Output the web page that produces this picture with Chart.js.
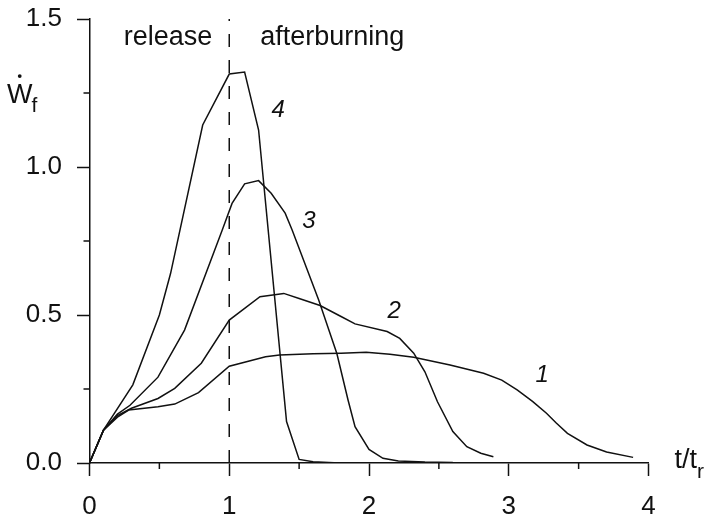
<html>
<head>
	<title>W_f vs t/t_r</title>
	<script type="text/javascript" src="https://cdn.jsdelivr.net/npm/chart.js@4.4.1/dist/chart.umd.min.js"></script>
	<style type="text/css">
	body{
		margin: 0;
		background-color: #fff;
	}
	#wrap{
		width: 708px;
		height: 521px;
	}
	</style>
</head>
<body>
	<div id="wrap">
		<canvas id="chart" width="708" height="521"></canvas>
	</div>
	<script type="text/javascript">
	// curve 1
	var curve1T = [0, 0.1, 0.2, 0.28, 0.49, 0.61, 0.78, 1.0, 1.26, 1.36, 1.6, 1.8, 1.98, 2.15, 2.32, 2.58, 2.82, 2.95, 3.06, 3.17, 3.27, 3.34, 3.42, 3.56, 3.7, 3.89];
	var curve1W = [0, 0.111, 0.155, 0.179, 0.19, 0.199, 0.238, 0.327, 0.359, 0.365, 0.369, 0.371, 0.374, 0.367, 0.357, 0.331, 0.303, 0.28, 0.247, 0.208, 0.168, 0.135, 0.1, 0.061, 0.037, 0.019];
	// curve 2
	var curve2T = [0, 0.1, 0.2, 0.3, 0.49, 0.61, 0.8, 1.0, 1.22, 1.39, 1.5, 1.65, 1.8, 1.9, 2.13, 2.22, 2.32, 2.4, 2.49, 2.6, 2.7, 2.8, 2.89];
	var curve2W = [0, 0.111, 0.16, 0.185, 0.218, 0.252, 0.337, 0.483, 0.562, 0.573, 0.556, 0.532, 0.495, 0.47, 0.444, 0.421, 0.371, 0.308, 0.207, 0.106, 0.055, 0.033, 0.021];
	// curve 3
	var curve3T = [0, 0.1, 0.2, 0.29, 0.49, 0.68, 0.95, 1.02, 1.11, 1.21, 1.3, 1.4, 1.45, 1.64, 1.77, 1.85, 1.9, 2.0, 2.1, 2.21, 2.4, 2.6];
	var curve3W = [0, 0.111, 0.165, 0.195, 0.29, 0.449, 0.787, 0.877, 0.943, 0.954, 0.911, 0.844, 0.787, 0.551, 0.37, 0.213, 0.123, 0.046, 0.016, 0.007, 0.003, 0.002];
	// curve 4
	var curve4T = [0, 0.1, 0.31, 0.5, 0.58, 0.81, 1.0, 1.11, 1.21, 1.41, 1.5, 1.6, 1.75];
	var curve4W = [0, 0.111, 0.264, 0.5, 0.64, 1.142, 1.314, 1.321, 1.125, 0.14, 0.012, 0.004, 0.001];

	var curveNames = ["1", "2", "3", "4"];
	// where the italic numbers sit, in data units
	var curveLabelT = [3.24, 2.18, 1.57, 1.35];
	var curveLabelW = [0.297, 0.514, 0.816, 1.193];

	var xTicks = [0, 1, 2, 3, 4];
	var yTicks = [0.0, 0.5, 1.0, 1.5];
	var xMinor = [0.5, 1.5, 2.5, 3.5];
	var yMinor = [0.25, 0.75, 1.25];
	var releaseT = 1;

	var ink = "#111";
	var font = "'Liberation Sans', Arial, Helvetica, sans-serif";

	function pts(t, w){
		var out = [];
		for (var i = 0; i < t.length; i++) out.push({x: t[i], y: w[i]});
		return out;
	}

	function curve(t, w){
		return {
			data: pts(t, w),
			showLine: true,
			borderColor: ink,
			borderWidth: 1.5,
			pointRadius: 0,
			tension: 0,
			fill: false
		};
	}

	var datasets = [
		curve(curve1T, curve1W),
		curve(curve2T, curve2W),
		curve(curve3T, curve3W),
		curve(curve4T, curve4W),
		{
			// release / afterburning boundary
			data: [{x: releaseT, y: yTicks[0]}, {x: releaseT, y: yTicks[yTicks.length - 1]}],
			showLine: true,
			borderColor: ink,
			borderWidth: 1.5,
			borderDash: [13, 13],
			pointRadius: 0,
			clip: 10
		}
	];

	// small ticks between the labelled ones
	var minorTicks = {
		id: "minorTicks",
		afterDraw: function(chart){
			var ctx = chart.ctx, xs = chart.scales.x, ys = chart.scales.y;
			ctx.save();
			ctx.strokeStyle = ink;
			ctx.lineWidth = 1.5;
			ctx.beginPath();
			xMinor.forEach(function(v){
				var px = xs.getPixelForValue(v);
				ctx.moveTo(px, xs.top);
				ctx.lineTo(px, xs.top + 6);
			});
			yMinor.forEach(function(v){
				var py = ys.getPixelForValue(v);
				ctx.moveTo(ys.right, py);
				ctx.lineTo(ys.right - 6, py);
			});
			ctx.stroke();
			ctx.restore();
		}
	};

	// text on the plot
	var notes = {
		id: "notes",
		afterDraw: function(chart){
			var ctx = chart.ctx, xs = chart.scales.x, ys = chart.scales.y;
			ctx.save();
			ctx.fillStyle = ink;

			ctx.font = "italic 24px " + font;
			ctx.textAlign = "center";
			ctx.textBaseline = "middle";
			for (var i = 0; i < curveNames.length; i++){
				ctx.fillText(curveNames[i], xs.getPixelForValue(curveLabelT[i]), ys.getPixelForValue(curveLabelW[i]));
			}

			ctx.font = "27px " + font;
			ctx.textBaseline = "alphabetic";
			ctx.textAlign = "right";
			ctx.fillText("release", xs.getPixelForValue(releaseT) - 17, ys.getPixelForValue(1.412));
			ctx.textAlign = "left";
			ctx.fillText("afterburning", xs.getPixelForValue(releaseT) + 31, ys.getPixelForValue(1.412));

			// W with dot, subscript f
			var wx = 7, wy = ys.getPixelForValue(1.216);
			ctx.font = "27px " + font;
			ctx.fillText("W", wx, wy);
			var ww = ctx.measureText("W").width;
			ctx.beginPath();
			ctx.arc(wx + ww / 2, wy - 27, 1.9, 0, Math.PI * 2);
			ctx.fill();
			ctx.font = "21px " + font;
			ctx.fillText("f", wx + ww - 1, wy + 9);

			// t/t_r at the end of the x axis
			var tx = xs.right + 26, ty = xs.top + 5;
			ctx.font = "27px " + font;
			ctx.fillText("t/t", tx, ty);
			var tw = ctx.measureText("t/t").width;
			ctx.font = "21px " + font;
			ctx.fillText("r", tx + tw, ty + 10);

			ctx.restore();
		}
	};

	new Chart(document.getElementById("chart").getContext("2d"), {
		type: "scatter",
		data: {datasets: datasets},
		plugins: [minorTicks, notes],
		options: {
			responsive: false,
			animation: false,
			events: [],
			layout: {padding: {left: 0, right: 59.5, top: 19, bottom: 0}},
			plugins: {legend: {display: false}, tooltip: {enabled: false}},
			scales: {
				x: {
					type: "linear",
					min: xTicks[0],
					max: xTicks[xTicks.length - 1],
					afterFit: function(s){ s.height = 58; s.paddingLeft = 0; s.paddingRight = 0; },
					afterBuildTicks: function(s){ s.ticks = xTicks.map(function(v){ return {value: v}; }); },
					border: {display: true, color: ink, width: 1.5},
					grid: {drawOnChartArea: false, tickLength: 13, tickColor: ink, tickWidth: 1.5},
					ticks: {color: ink, padding: 15, font: {family: font, size: 26}, callback: function(v){ return String(v); }}
				},
				y: {
					type: "linear",
					min: yTicks[0],
					max: yTicks[yTicks.length - 1],
					afterFit: function(s){ s.width = 89.5; s.paddingTop = 0; s.paddingBottom = 0; },
					afterBuildTicks: function(s){ s.ticks = yTicks.map(function(v){ return {value: v}; }); },
					border: {display: true, color: ink, width: 1.5},
					grid: {drawOnChartArea: false, tickLength: 12.5, tickColor: ink, tickWidth: 1.5},
					ticks: {color: ink, padding: 15, font: {family: font, size: 26}, callback: function(v){ return v.toFixed(1); }}
				}
			}
		}
	});
	</script>
</body>
</html>
